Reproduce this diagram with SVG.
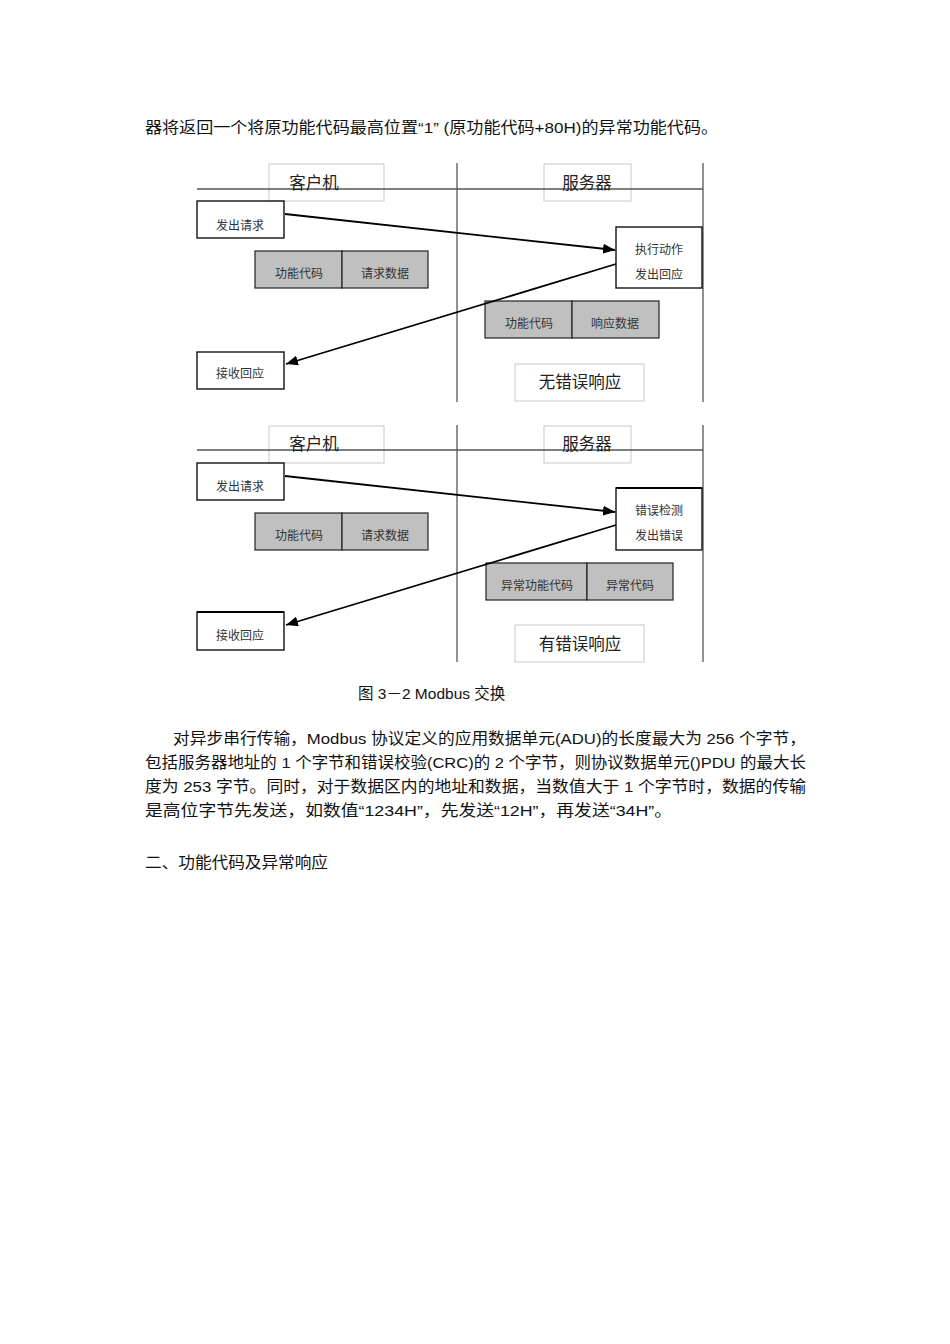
<svg xmlns="http://www.w3.org/2000/svg" width="950" height="1344" viewBox="0 0 950 1344">
<style>
.body{font-family:"Liberation Sans","Noto Sans CJK SC",sans-serif;font-size:15.5px;fill:#111}
.lbl{font-family:"Noto Sans CJK SC",sans-serif;font-size:12px;fill:#333;text-anchor:middle}
.big{font-family:"Noto Sans CJK SC",sans-serif;font-size:16.5px;fill:#222;text-anchor:middle}
.hbox{fill:none;stroke:#c8c8c8;stroke-width:1}
.box{fill:#fff;stroke:#111;stroke-width:1.4}
.gray{fill:#c0c0c0;stroke:#222;stroke-width:1.2}
.rule{stroke:#555;stroke-width:1.3}
.arrow{stroke:#000;stroke-width:1.8;fill:none;marker-end:url(#ah)}
</style>
<defs>
<marker id="ah" viewBox="0 0 10 10" refX="10" refY="5" markerWidth="12" markerHeight="10" markerUnits="userSpaceOnUse" orient="auto" preserveAspectRatio="none"><path d="M0,0 L10,5 L0,10 z" fill="#000"/></marker>
</defs>
<rect width="950" height="1344" fill="#fff"/>
<text class="body" x="145" y="133" textLength="573" lengthAdjust="spacingAndGlyphs">器将返回一个将原功能代码最高位置“1” (原功能代码+80H)的异常功能代码。</text>

<!-- Diagram 1 -->
<g id="frame1">
<rect class="hbox" x="269" y="164" width="115" height="37"/>
<rect class="hbox" x="544" y="164" width="87" height="37"/>
<line class="rule" x1="197" y1="189" x2="703" y2="189"/>
<line class="rule" x1="457" y1="163" x2="457" y2="402"/>
<line class="rule" x1="703" y1="163" x2="703" y2="402"/>
<text class="big" x="314" y="189">客户机</text>
<text class="big" x="587" y="189">服务器</text>
</g>
<g id="req1"><rect class="box" x="197" y="201" width="87" height="37"/><text class="lbl" x="240" y="230">发出请求</text></g>
<g id="act1"><rect class="box" x="616" y="227" width="86" height="61"/><text class="lbl" x="659" y="254">执行动作</text><text class="lbl" x="659" y="279">发出回应</text></g>
<g id="pdu1"><rect class="gray" x="255" y="251" width="87" height="37"/><rect class="gray" x="342" y="251" width="86" height="37"/><text class="lbl" x="299" y="278">功能代码</text><text class="lbl" x="385" y="278">请求数据</text></g>
<g id="resp1"><rect class="gray" x="485" y="301" width="87" height="37"/><rect class="gray" x="572" y="301" width="87" height="37"/><text class="lbl" x="529" y="328">功能代码</text><text class="lbl" x="615" y="328">响应数据</text></g>
<g id="recv1"><rect class="box" x="197" y="352" width="87" height="37"/><text class="lbl" x="240" y="378">接收回应</text></g>
<g id="note1"><rect class="hbox" x="515" y="364" width="129" height="37"/><text class="big" x="580" y="388">无错误响应</text></g>

<!-- Diagram 2 -->
<g id="frame2">
<rect class="hbox" x="269" y="426" width="115" height="37"/>
<rect class="hbox" x="544" y="426" width="87" height="37"/>
<line class="rule" x1="197" y1="450" x2="703" y2="450"/>
<line class="rule" x1="457" y1="425" x2="457" y2="662"/>
<line class="rule" x1="703" y1="425" x2="703" y2="662"/>
<text class="big" x="314" y="450">客户机</text>
<text class="big" x="587" y="450">服务器</text>
</g>
<g id="req2"><rect class="box" x="197" y="463" width="87" height="37"/><text class="lbl" x="240" y="491">发出请求</text></g>
<g id="err2"><rect class="box" x="616" y="488" width="86" height="62"/><line x1="616" y1="488" x2="702" y2="488" stroke="#000" stroke-width="2.2"/><text class="lbl" x="659" y="515">错误检测</text><text class="lbl" x="659" y="540">发出错误</text></g>
<g id="pdu2"><rect class="gray" x="255" y="513" width="87" height="37"/><rect class="gray" x="342" y="513" width="86" height="37"/><text class="lbl" x="299" y="540">功能代码</text><text class="lbl" x="385" y="540">请求数据</text></g>
<g id="exc2"><rect class="gray" x="486" y="563" width="101" height="37"/><rect class="gray" x="587" y="563" width="86" height="37"/><text class="lbl" x="537" y="590">异常功能代码</text><text class="lbl" x="630" y="590">异常代码</text></g>
<g id="recv2"><rect class="box" x="197" y="612" width="87" height="38"/><line x1="197" y1="612" x2="284" y2="612" stroke="#000" stroke-width="2.2"/><text class="lbl" x="240" y="640">接收回应</text></g>
<g id="note2"><rect class="hbox" x="515" y="625" width="129" height="37"/><text class="big" x="580" y="650">有错误响应</text></g>

<g id="connectors">
<line class="arrow" x1="285" y1="214" x2="615" y2="250"/>
<line class="arrow" x1="616" y1="264" x2="286" y2="364"/>
<line class="arrow" x1="285" y1="476" x2="615" y2="512"/>
<line class="arrow" x1="616" y1="525" x2="286" y2="625"/>
</g>

<text class="body" x="358" y="699">图 3－2 Modbus 交换</text>
<text class="body" x="173" y="744" textLength="633" lengthAdjust="spacingAndGlyphs">对异步串行传输，Modbus 协议定义的应用数据单元(ADU)的长度最大为 256 个字节，</text>
<text class="body" x="145" y="768" textLength="661" lengthAdjust="spacingAndGlyphs">包括服务器地址的 1 个字节和错误校验(CRC)的 2 个字节，则协议数据单元()PDU 的最大长</text>
<text class="body" x="145" y="792" textLength="661" lengthAdjust="spacingAndGlyphs">度为 253 字节。同时，对于数据区内的地址和数据，当数值大于 1 个字节时，数据的传输</text>
<text class="body" x="145" y="816" textLength="527" lengthAdjust="spacingAndGlyphs">是高位字节先发送，如数值“1234H”，先发送“12H”，再发送“34H”。</text>
<text class="body" x="145" y="868" textLength="183" lengthAdjust="spacingAndGlyphs">二、功能代码及异常响应</text>
</svg>
